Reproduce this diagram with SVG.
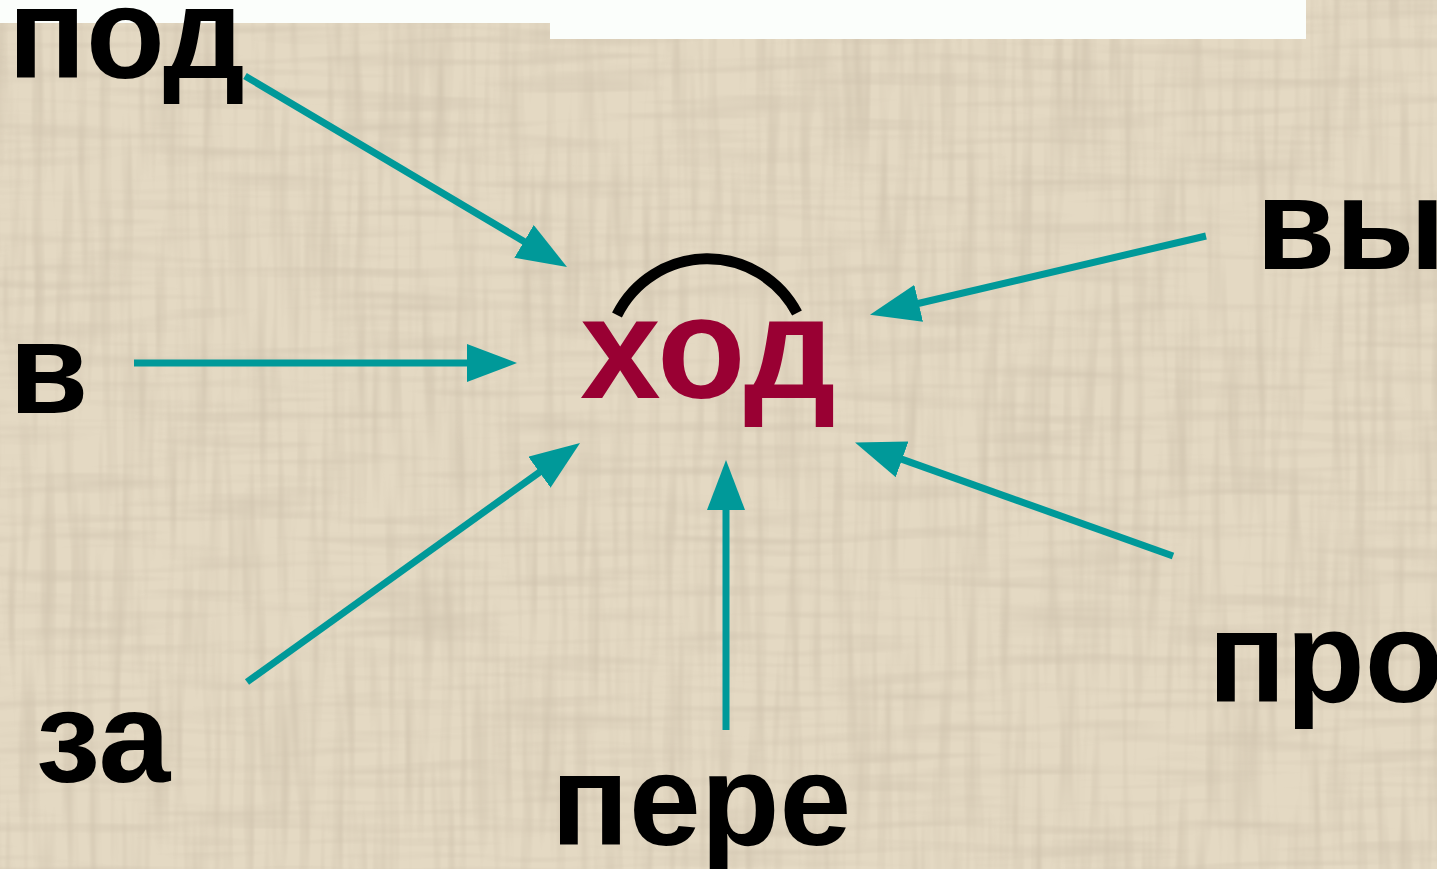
<svg xmlns="http://www.w3.org/2000/svg" width="1437" height="869" viewBox="0 0 1437 869">
  <style>
    .lbl { font-family: "Liberation Sans", Arial, sans-serif; font-weight: bold; font-size: 129px; fill: #000000; }
    .root { font-family: "Liberation Sans", Arial, sans-serif; font-weight: bold; font-size: 145px; fill: #990033; }
    .conn { stroke: #009999; stroke-width: 7; fill: none; marker-end: url(#head); }
  </style>
  <defs>
    <marker id="head" viewBox="0 0 50 38" refX="5" refY="19" markerWidth="50" markerHeight="38" markerUnits="userSpaceOnUse" orient="auto">
      <path d="M0,0 L50,19 L0,38 Z" fill="#009999"/>
    </marker>
    <filter id="vstreak" x="0" y="0" width="100%" height="100%">
      <feTurbulence type="fractalNoise" baseFrequency="0.09 0.006" numOctaves="2" seed="4"/>
      <feColorMatrix type="matrix" values="0 0 0 0 0.60  0 0 0 0 0.52  0 0 0 0 0.40  1.3 0 0 0 -0.55"/>
    </filter>
    <filter id="hstreak" x="0" y="0" width="100%" height="100%">
      <feTurbulence type="fractalNoise" baseFrequency="0.006 0.09" numOctaves="2" seed="9"/>
      <feColorMatrix type="matrix" values="0 0 0 0 0.62  0 0 0 0 0.54  0 0 0 0 0.42  1.3 0 0 0 -0.6"/>
    </filter>
  </defs>

  <g id="background">
    <rect x="0" y="0" width="1437" height="869" fill="#e4d9c3"/>
    <rect x="0" y="0" width="1437" height="869" filter="url(#vstreak)"/>
    <rect x="0" y="0" width="1437" height="869" filter="url(#hstreak)"/>
    <rect x="0" y="0" width="550" height="23" fill="#fbfefb"/>
    <rect x="550" y="0" width="756" height="39" fill="#fbfefb"/>
  </g>

  <g id="connectors">
    <line class="conn" x1="245" y1="76" x2="528.3" y2="244"/>
    <line class="conn" x1="134" y1="363" x2="472" y2="363"/>
    <line class="conn" x1="1206" y1="236" x2="913.8" y2="304.5"/>
    <line class="conn" x1="1173" y1="556" x2="897.4" y2="457.6"/>
    <line class="conn" x1="726" y1="730" x2="726" y2="505"/>
    <line class="conn" x1="247" y1="682" x2="543.5" y2="469.3"/>
  </g>

  <g id="node-khod">
    <text class="root" x="580" y="398">ход</text>
    <path d="M617,315 A101,101 0 0 1 797,313" stroke="#000000" stroke-width="11" fill="none"/>
  </g>
  <g id="node-pod"><text class="lbl" x="8" y="78">под</text></g>
  <g id="node-v"><text class="lbl" x="9" y="413">в</text></g>
  <g id="node-vy"><text class="lbl" x="1256" y="269">вы</text></g>
  <g id="node-pro"><text class="lbl" x="1208" y="702">про</text></g>
  <g id="node-pere"><text class="lbl" x="551" y="845">пере</text></g>
  <g id="node-za"><text class="lbl" x="36" y="782">за</text></g>
</svg>
